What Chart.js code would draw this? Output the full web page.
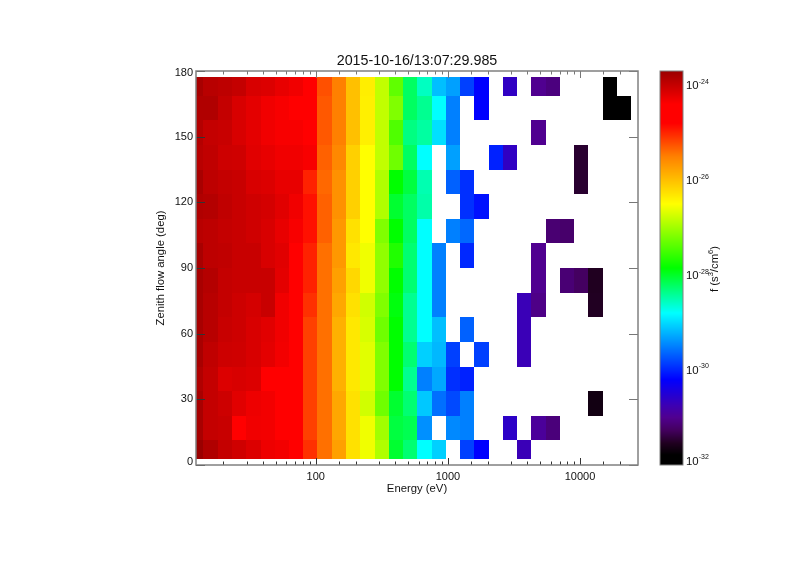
<!DOCTYPE html>
<html>
<head>
<meta charset="utf-8">
<title>Zenith flow angle vs energy</title>
<script src="https://cdn.jsdelivr.net/npm/chart.js@4"></script>
<style>
  html, body { margin: 0; padding: 0; background: #fff; }
  canvas { display: block; filter: blur(0.45px); }
</style>
</head>
<body>
<canvas id="spectrum" width="800" height="565"></canvas>
<script>
const titleText = '2015-10-16/13:07:29.985';
const xTickLabels = [100, 1000, 10000];
const yTickLabels = [0, 30, 60, 90, 120, 150, 180];
const cbTickLabels = [-24, -26, -28, -30, -32];

// bin edges, energy in eV and angle in deg
const energyEdges = [12.4, 14.1, 18.1, 23.2, 29.8, 38.2, 49.0, 62.8, 80.5, 103, 132, 170, 217, 279, 357, 458, 587, 753, 965, 1237, 1586, 2033, 2607, 3342, 4285, 5494, 7043, 9030, 11577, 14843, 19030, 24397];
const angleEdges = [2.8, 11.25, 22.5, 33.75, 45, 56.25, 67.5, 78.75, 90, 101.25, 112.5, 123.75, 135, 146.25, 157.5, 168.75, 177.2];

// log10 of f, one list per angle bin, lowest angle first
const row0 = [-23.69, -23.85, -23.99, -24.07, -24.16, -24.28, -24.32, -24.5, -25.06, -25.41, -25.75, -26.26, -26.58, -26.92, -28.03, -28.27, -28.8, -29.06, null, -29.85, -30.2, null, null, -30.72, null, null, null, null, null, null, null];
const row1 = [-23.8, -23.99, -24.02, -24.5, -24.3, -24.32, -24.5, -24.5, -25.15, -25.41, -25.81, -26.26, -26.58, -27, -28.09, -28.15, -29.41, null, -29.45, -29.5, null, null, -30.6, null, -30.93, -31.12, null, null, null, null, null];
const row2 = [-23.8, -23.99, -24.05, -24.19, -24.28, -24.32, -24.5, -24.5, -25.15, -25.41, -25.81, -26.26, -26.75, -27.26, -28.03, -28.27, -29.1, -29.59, -29.8, -29.5, null, null, null, null, null, null, null, null, -31.65, null, null];
const row3 = [-23.85, -23.99, -24.16, -24.13, -24.16, -24.5, -24.5, -24.5, -25.15, -25.41, -25.88, -26.32, -26.66, -27.17, -27.85, -28.39, -29.5, -29.28, -29.94, -30.02, null, null, null, null, null, null, null, null, null, null, null];
const row4 = [-23.8, -23.96, -24.05, -24.07, -24.13, -24.21, -24.32, -24.5, -25.15, -25.41, -25.88, -26.32, -26.66, -27.17, -27.85, -28.27, -29.06, -29.19, -29.85, null, -29.85, null, null, -30.72, null, null, null, null, null, null, null];
const row5 = [-23.8, -23.91, -24.02, -24.05, -24.13, -24.19, -24.3, -24.5, -25.15, -25.41, -25.88, -26.32, -26.71, -27.26, -27.85, -28.39, -28.8, -29.15, null, -29.67, null, null, null, -30.72, null, null, null, null, null, null, null];
const row6 = [-23.8, -23.91, -23.99, -24.05, -24.1, -24.02, -24.3, -24.5, -25.06, -25.41, -25.81, -26.26, -26.75, -27.17, -27.9, -28.39, -28.8, -29.5, null, null, null, null, null, -30.72, -31.05, null, null, null, -31.53, null, null];
const row7 = [-23.8, -23.88, -23.99, -24.02, -24.02, -24.02, -24.21, -24.5, -24.98, -25.41, -25.75, -26.19, -26.58, -27.09, -27.85, -28.27, -28.8, -29.5, null, null, null, null, null, null, -31, null, -31.15, -31.26, -31.54, null, null];
const row8 = [-23.8, -23.94, -23.96, -24.02, -24.02, -24.13, -24.19, -24.5, -24.98, -25.41, -25.69, -26.32, -26.58, -27.09, -27.68, -28.27, -28.8, -29.5, null, -29.98, null, null, null, null, -31, null, null, null, null, null, null];
const row9 = [-23.91, -23.94, -23.99, -24.02, -24.07, -24.13, -24.24, -24.35, -24.89, -25.33, -25.69, -26.26, -26.5, -27.17, -27.85, -28.21, -28.8, null, -29.5, -29.63, null, null, null, null, null, -31.16, -31.2, null, null, null, null];
const row10 = [-23.85, -23.88, -23.96, -24.02, -24.07, -24.1, -24.19, -24.3, -24.89, -25.33, -25.63, -26.13, -26.5, -26.92, -28.03, -28.21, -28.48, null, null, -29.94, -30.11, null, null, null, null, null, null, null, null, null, null];
const row11 = [-23.8, -23.94, -23.99, -24.02, -24.13, -24.16, -24.24, -24.24, -24.98, -25.37, -25.63, -26.13, -26.5, -26.92, -27.85, -28.09, -28.51, null, -29.67, -29.94, null, null, null, null, null, null, null, -31.47, null, null, null];
const row12 = [-23.91, -23.96, -24.05, -24.07, -24.19, -24.24, -24.3, -24.3, -24.35, -25.33, -25.56, -26.13, -26.5, -26.83, -27.26, -28.21, -28.8, null, -29.32, null, null, -30.02, -30.63, null, null, null, null, -31.47, null, null, null];
const row13 = [-23.88, -23.99, -24.02, -24.13, -24.21, -24.3, -24.35, -24.35, -24.5, -25.28, -25.5, -26, -26.38, -26.83, -27.43, -28.33, -28.45, -28.97, -29.5, null, null, null, null, null, -31, null, null, null, null, null, null];
const row14 = [-23.85, -23.85, -23.99, -24.13, -24.21, -24.3, -24.35, -24.45, -24.5, -25.28, -25.5, -26, -26.38, -26.83, -27.17, -28.21, -28.39, -28.8, -29.5, null, -30.2, null, null, null, null, null, null, null, null, -31.9, -31.9];
const row15 = [-23.8, -23.91, -23.94, -23.99, -24.13, -24.16, -24.24, -24.3, -24.45, -25.24, -25.5, -26, -26.37, -26.83, -27.34, -28.21, -28.57, -29.15, -29.32, -29.85, -30.2, null, -30.63, null, -31, -31.1, null, null, null, -31.9, null];
const rows = [row0, row1, row2, row3, row4, row5, row6, row7, row8, row9, row10, row11, row12, row13, row14, row15];

// colour table, from the colour bar
const cmapStops = [-32, -31.79, -31.54, -31.26, -31, -30.74, -30.2, -28.8, -27.85, -26.5, -25.5, -24.8, -24.4, -23.7];
const cmapColors = [[0,0,0], [0,0,0], [32,0,32], [68,0,96], [80,0,144], [60,0,180], [0,0,255], [0,255,255], [0,255,0], [255,255,0], [255,128,0], [255,0,0], [255,0,0], [154,0,0]];

function colorFor(v) {
    let i = 0;
    while (i < cmapStops.length - 2 && v > cmapStops[i + 1]) i++;
    let t = (v - cmapStops[i]) / (cmapStops[i + 1] - cmapStops[i]);
    t = Math.max(0, Math.min(1, t));
    const a = cmapColors[i], b = cmapColors[i + 1];
    return `rgb(${a.map((c, k) => Math.round(c + (b[k] - c) * t)).join(',')})`;
}

const cells = [];
rows.forEach((row, r) => row.forEach((v, c) => {
    if (v === null) return;
    cells.push({
        x: Math.sqrt(energyEdges[c] * energyEdges[c + 1]),
        y: (angleEdges[r] + angleEdges[r + 1]) / 2,
        x0: energyEdges[c], x1: energyEdges[c + 1],
        y0: angleEdges[r], y1: angleEdges[r + 1],
        v: v
    });
}));

const FONT = '"Liberation Sans", Arial, sans-serif';
const TEXT = '#111';
const CB_LEFT = 660, CB_RIGHT = 683;

const heatmapPlugin = {
    id: 'heatmap',
    afterLayout(chart) {
        // end labels sit a little inside the frame
        const items = chart.scales.y.getLabelItems();
        items[0].options.translation[1] -= 3;
        items[items.length - 1].options.translation[1] += 2;
    },
    beforeDatasetsDraw(chart) {
        const { ctx, scales: { x, y } } = chart;
        ctx.save();
        cells.forEach(cell => {
            const l = Math.round(x.getPixelForValue(cell.x0));
            const r = Math.round(x.getPixelForValue(cell.x1));
            const t = Math.round(y.getPixelForValue(cell.y1));
            const b = Math.round(y.getPixelForValue(cell.y0));
            ctx.fillStyle = colorFor(cell.v);
            ctx.fillRect(l, t, r - l, b - t);
        });
        ctx.restore();
    },
    afterDatasetsDraw(chart) {
        const { ctx, chartArea: a, scales: { x, y, cb } } = chart;
        ctx.save();

        // ticks point inwards on all four sides, darker on the left and bottom
        ctx.lineWidth = 1;
        ctx.strokeStyle = '#333';
        ctx.beginPath();
        x.ticks.forEach(t => {
            if (t.value <= x.min || t.value >= x.max) return;
            const px = Math.round(x.getPixelForValue(t.value)) + 0.5;
            ctx.moveTo(px, a.bottom);
            ctx.lineTo(px, a.bottom - (xTickLabels.includes(t.value) ? 7 : 3.5));
        });
        y.ticks.forEach(t => {
            const py = Math.round(y.getPixelForValue(t.value)) + 0.5;
            ctx.moveTo(a.left, py); ctx.lineTo(a.left + 9, py);
        });
        ctx.stroke();

        ctx.strokeStyle = '#777';
        ctx.beginPath();
        x.ticks.forEach(t => {
            if (t.value <= x.min || t.value >= x.max) return;
            const px = Math.round(x.getPixelForValue(t.value)) + 0.5;
            ctx.moveTo(px, a.top);
            ctx.lineTo(px, a.top + (xTickLabels.includes(t.value) ? 7 : 3.5));
        });
        y.ticks.forEach(t => {
            const py = Math.round(y.getPixelForValue(t.value)) + 0.5;
            ctx.moveTo(a.right, py); ctx.lineTo(a.right - 9, py);
        });
        ctx.stroke();

        ctx.strokeStyle = '#808080';
        ctx.lineWidth = 1.5;
        ctx.strokeRect(a.left, a.top, a.right - a.left, a.bottom - a.top);

        // colour bar
        for (let py = Math.round(cb.top); py < Math.round(cb.bottom); py++) {
            ctx.fillStyle = colorFor(cb.getValueForPixel(py + 0.5));
            ctx.fillRect(CB_LEFT, py, CB_RIGHT - CB_LEFT, 1);
        }
        ctx.lineWidth = 1;
        ctx.strokeRect(CB_LEFT, cb.top, CB_RIGHT - CB_LEFT, cb.bottom - cb.top);

        ctx.fillStyle = TEXT;
        ctx.textBaseline = 'middle';
        ctx.textAlign = 'left';
        cbTickLabels.forEach(v => {
            const py = Math.min(cb.getPixelForValue(v) + 1, 461.5);
            ctx.font = '11.4px ' + FONT;
            ctx.fillText('10', 686, py);
            ctx.font = '7px ' + FONT;
            ctx.fillText(String(v), 698.7, py - 4.5);
        });

        // colour bar title, rotated, with superscripts
        ctx.translate(715, 292);
        ctx.rotate(-Math.PI / 2);
        let pen = 0;
        [['f (s', 11.3, 0], ['3', 7.5, -4], ['/cm', 11.3, 0], ['6', 7.5, -4], [')', 11.3, 0]].forEach(([s, size, dy]) => {
            ctx.font = size + 'px ' + FONT;
            ctx.fillText(s, pen, dy);
            pen += ctx.measureText(s).width;
        });
        ctx.restore();
    }
};

new Chart(document.getElementById('spectrum').getContext('2d'), {
    type: 'scatter',
    data: { datasets: [{ data: cells, pointRadius: 0, pointHoverRadius: 0 }] },
    options: {
        responsive: false,
        animation: false,
        events: [],
        layout: { padding: { top: 0, left: 0, right: 162, bottom: 0 } },
        plugins: {
            legend: { display: false },
            tooltip: { enabled: false },
            title: {
                display: true,
                text: titleText,
                fullSize: false,
                color: TEXT,
                font: { family: FONT, size: 14.3, weight: 'normal', lineHeight: 1.2 },
                padding: { top: 52, bottom: 1.84 }
            }
        },
        scales: {
            x: {
                type: 'logarithmic',
                min: 12.4,
                max: 27480,
                afterFit(scale) { scale.height = 100; },
                grid: { display: false, drawTicks: false },
                border: { display: false },
                ticks: {
                    autoSkip: false,
                    maxRotation: 0,
                    padding: 5,
                    color: TEXT,
                    font: { family: FONT, size: 11 },
                    callback: v => xTickLabels.includes(v) ? String(v) : ''
                },
                title: {
                    display: true,
                    text: 'Energy (eV)',
                    color: TEXT,
                    font: { family: FONT, size: 11.3 },
                    padding: { top: 0, bottom: 69 }
                }
            },
            y: {
                type: 'linear',
                min: yTickLabels[0],
                max: yTickLabels[yTickLabels.length - 1],
                afterFit(scale) { scale.width = 196; },
                grid: { display: false, drawTicks: false },
                border: { display: false },
                ticks: {
                    stepSize: 30,
                    padding: 3,
                    color: TEXT,
                    font: { family: FONT, size: 11 }
                },
                title: {
                    display: true,
                    text: 'Zenith flow angle (deg)',
                    color: TEXT,
                    font: { family: FONT, size: 11.3 },
                    padding: { top: 154, bottom: 0 }
                }
            },
            cb: { type: 'linear', position: 'right', display: false, min: -32, max: -23.7 }
        }
    },
    plugins: [heatmapPlugin]
});
</script>
</body>
</html>
